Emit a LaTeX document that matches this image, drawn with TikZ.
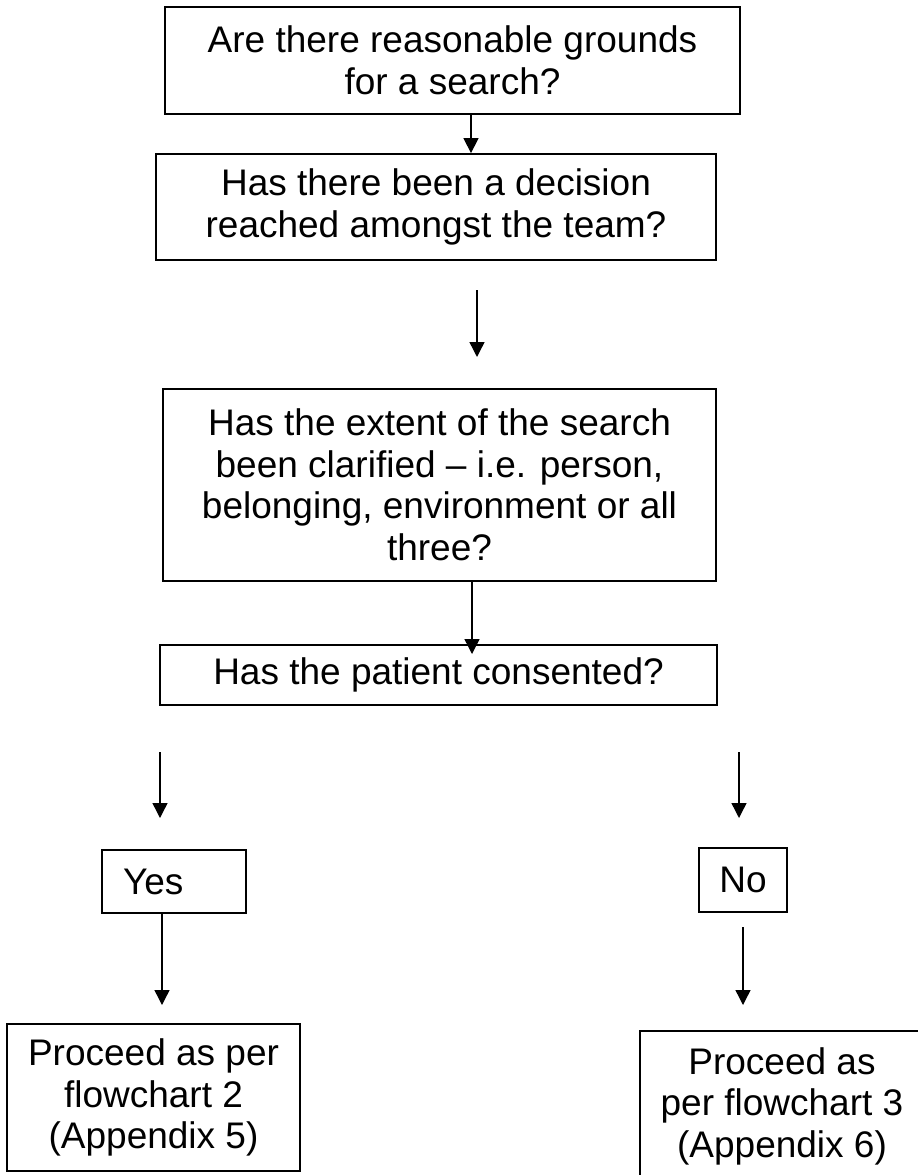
\documentclass[tikz,border=0pt]{standalone}
\usepackage{fontspec}
\setmainfont{Liberation Sans}
\usetikzlibrary{arrows.meta}
\begin{document}
\begin{tikzpicture}[x=1pt,y=-1pt,
  box/.style={draw=black, line width=1.8pt, align=center, inner sep=0pt,
    font=\fontsize{37}{41.5}\selectfont},
  arr/.style={line width=1.4pt, -{Triangle[width=15pt,length=15pt]}}]
\useasboundingbox (0,0) rectangle (918,1175);

% question boxes
\node[box, minimum width=575pt, minimum height=107pt] (q1) at (452.5,60.5)
  {Are there reasonable grounds\\for a search?};
\node[box, minimum width=560pt, minimum height=106pt] (q2) at (436,207)
  {Has there been a decision\\reached amongst the team?};
\node[box, minimum width=553pt, minimum height=192pt] (q3) at (439.5,485)
  {Has the extent of the search\\been clarified – i.e. person,\\belonging, environment or all\\three?};
\node[box, minimum width=557pt, minimum height=60pt] (q4) at (438.5,675)
  {Has the patient consented?};

% answers
\node[box, minimum width=144pt, minimum height=63pt, text width=102pt,
  align=left, inner xsep=21pt] (yes) at (174,881.5) {Yes};
\node[box, minimum width=88pt, minimum height=64pt] (no) at (743,880) {No};

% outcomes
\node[box, minimum width=293pt, minimum height=147pt] (p2) at (153.5,1097.5)
  {Proceed as per\\flowchart 2\\(Appendix 5)};
\node[box, minimum width=284pt, minimum height=150pt] (p3) at (782,1106)
  {Proceed as\\per flowchart 3\\(Appendix 6)};

% arrow positions
\coordinate (c1) at (471,0);
\coordinate (c2s) at (477,290);
\coordinate (c2e) at (477,357);
\coordinate (c3) at (472,654);
\coordinate (l1s) at (160,752);
\coordinate (l1e) at (160,818);
\coordinate (l2) at (162,1005);
\coordinate (r1s) at (739,752);
\coordinate (r1e) at (739,818);
\coordinate (r2s) at (743,927);
\coordinate (r2e) at (743,1005);

% connectors
\draw[arr] (q1.south -| c1) -- (q2.north -| c1);
\draw[arr] (c2s) -- (c2e);
\draw[arr] (q3.south -| c3) -- (c3);
\draw[arr] (l1s) -- (l1e);
\draw[arr] (yes.south -| l2) -- (l2);
\draw[arr] (r1s) -- (r1e);
\draw[arr] (r2s) -- (r2e);
\end{tikzpicture}
\end{document}
